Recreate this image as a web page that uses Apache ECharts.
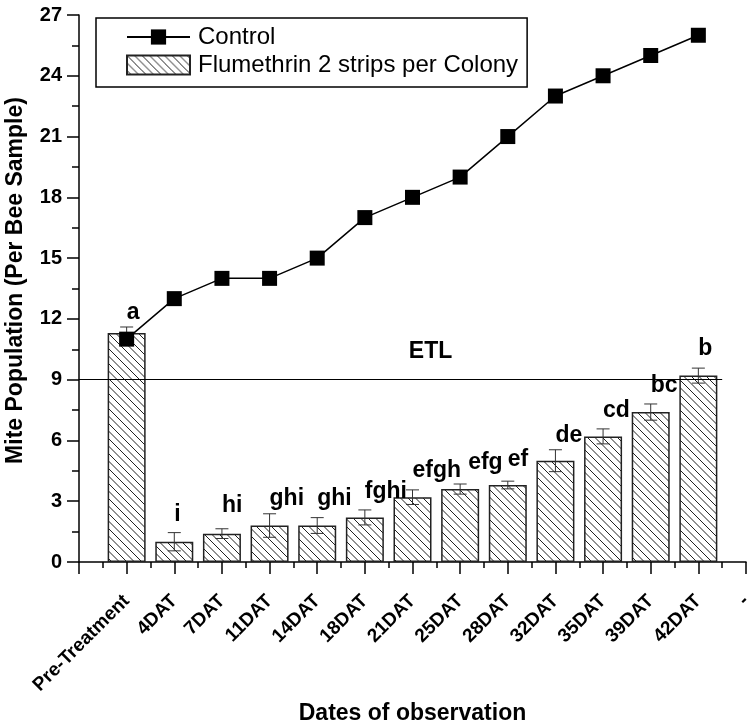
<!DOCTYPE html>
<html><head><meta charset="utf-8">
<script src="https://cdn.jsdelivr.net/npm/echarts@6/dist/echarts.min.js"></script>
<style>html,body{margin:0;padding:0;background:#fff}#c{width:752px;height:725px}</style>
</head><body><div id="c"></div>
<script>
// ---- data ----
const categories = ['', 'Pre-Treatment', '4DAT', '7DAT', '11DAT', '14DAT', '18DAT', '21DAT', '25DAT', '28DAT', '32DAT', '35DAT', '39DAT', '42DAT', '-'];
const controlValues = [11, 13, 14, 14, 15, 17, 18, 19, 21, 23, 24, 25, 26];
const flumethrinValues = [11.3, 1.0, 1.4, 1.8, 1.8, 2.2, 3.2, 3.6, 3.8, 5.0, 6.2, 7.4, 9.2];
const flumethrinErrors = [0.3, 0.45, 0.24, 0.58, 0.39, 0.37, 0.36, 0.25, 0.19, 0.54, 0.37, 0.4, 0.37];
const letters = ['a', 'i', 'hi', 'ghi', 'ghi', 'fghi', 'efgh', 'efg', 'ef', 'de', 'cd', 'bc', 'b'];
const etlValue = 9;
const etlLabel = 'ETL';
const seriesNames = ['Control', 'Flumethrin 2 strips per Colony'];
const yMin = 0, yMax = 27, yInterval = 3;

// ---- styles (label nudges in px) ----
const letterNudgeX = [0, 0, 0, 0, 0, 0, 0, 8, 0, 0, 0, 0, 0];
const letterNudgeY = [-14, -18, -23, -15, -19, -18, -19, -21, -22, -14, -18, -18, -19];

const FONT = '"Liberation Sans", Arial, Helvetica, sans-serif';

// hatch pattern
const tile = document.createElement('canvas');
tile.width = 15; tile.height = 15;
const tctx = tile.getContext('2d');
tctx.fillStyle = '#fff'; tctx.fillRect(0, 0, 15, 15);
tctx.strokeStyle = '#222'; tctx.lineWidth = 1;
tctx.beginPath();
for (let o = -15; o <= 15; o += 7.5) { tctx.moveTo(o, 0); tctx.lineTo(o + 15, 15); }
tctx.stroke();
const hatch = { image: tile, repeat: 'repeat' };

const xOf = i => i + 1;
const barData = flumethrinValues.map((v, i) => [xOf(i), v]);
const lineData = controlValues.map((v, i) => [xOf(i), v]);
const errData = flumethrinValues.map((v, i) => [xOf(i), v - flumethrinErrors[i], v + flumethrinErrors[i]]);
const letterData = flumethrinValues.map((v, i) => [xOf(i), v + flumethrinErrors[i], i]);

const chart = echarts.init(document.getElementById('c'), null, { renderer: 'canvas' });
chart.setOption({
  backgroundColor: '#fff',
  animation: false,
  grid: { left: 79, right: 6, top: 15, bottom: 163, containLabel: false, outerBoundsMode: 'none' },
  legend: {
    orient: 'vertical', left: 96, top: 18,
    padding: [7, 9, 10, 30],
    borderColor: '#000', borderWidth: 1.5,
    itemWidth: 63, itemHeight: 19, itemGap: 4,
    textStyle: { fontSize: 24, color: '#000', fontFamily: FONT, padding: [0, 0, 0, 3] },
    data: [{ name: seriesNames[0] }, { name: seriesNames[1], icon: 'rect' }]
  },
  xAxis: {
    type: 'value', min: 0, max: categories.length - 1, interval: 1,
    axisLine: { show: true, onZero: false, lineStyle: { color: '#000', width: 1.5 } },
    axisTick: { show: true, length: 12, lineStyle: { color: '#000', width: 1.5 } },
    minorTick: { show: true, splitNumber: 2, length: 6, lineStyle: { color: '#000', width: 1.5 } },
    splitLine: { show: false },
    axisLabel: {
      rotate: 45, margin: 36, showMinLabel: true, showMaxLabel: true,
      formatter: v => categories[Math.round(v)] || '',
      fontWeight: 'bold', fontSize: 19, color: '#000', fontFamily: FONT
    },
    name: 'Dates of observation', nameLocation: 'middle', nameGap: 139,
    nameTextStyle: { fontWeight: 'bold', fontSize: 23, color: '#000', fontFamily: FONT }
  },
  yAxis: {
    type: 'value', min: yMin, max: yMax, interval: yInterval,
    axisLine: { show: true, lineStyle: { color: '#000', width: 1.5 } },
    axisTick: { show: true, length: 12, lineStyle: { color: '#000', width: 1.5 } },
    minorTick: { show: true, splitNumber: 2, length: 7, lineStyle: { color: '#000', width: 1.5 } },
    splitLine: { show: false },
    axisLabel: { margin: 17, fontWeight: 'bold', fontSize: 20, color: '#000', fontFamily: FONT },
    name: 'Mite Population (Per Bee Sample)', nameLocation: 'middle', nameGap: 52,
    nameTextStyle: { fontWeight: 'bold', fontSize: 23, color: '#000', fontFamily: FONT, padding: [0, 0, 0, 16] }
  },
  series: [
    {
      name: seriesNames[1], type: 'bar', data: barData, barWidth: 38, z: 2,
      itemStyle: { color: hatch, borderColor: '#222', borderWidth: 1.5 },
      markLine: {
        silent: true, symbol: ['none', 'none'],
        lineStyle: { color: '#000', width: 1.2, type: 'solid' },
        label: {
          show: true, position: 'middle', formatter: etlLabel, distance: 17, offset: [30, 0],
          fontWeight: 'bold', fontSize: 23, color: '#000', fontFamily: FONT
        },
        data: [[{ coord: [0, etlValue] }, { coord: [13.5, etlValue] }]]
      }
    },
    {
      name: 'err', type: 'custom', z: 4, data: errData,
      encode: { x: 0, y: [1, 2] },
      renderItem: (params, api) => {
        const x = api.value(0);
        const lo = api.coord([x, api.value(1)]);
        const hi = api.coord([x, api.value(2)]);
        const hw = 6.5;
        const st = { stroke: '#333', lineWidth: 1 };
        return {
          type: 'group', children: [
            { type: 'line', shape: { x1: lo[0], y1: lo[1], x2: hi[0], y2: hi[1] }, style: st },
            { type: 'line', shape: { x1: hi[0] - hw, y1: hi[1], x2: hi[0] + hw, y2: hi[1] }, style: st },
            { type: 'line', shape: { x1: lo[0] - hw, y1: lo[1], x2: lo[0] + hw, y2: lo[1] }, style: st }
          ]
        };
      }
    },
    {
      name: seriesNames[0], type: 'line', data: lineData, z: 5,
      symbol: 'rect', symbolSize: 15,
      lineStyle: { color: '#000', width: 1.5 },
      itemStyle: { color: '#000' }
    },
    {
      name: 'letters', type: 'custom', z: 6, data: letterData,
      encode: { x: 0, y: 1 },
      renderItem: (params, api) => {
        const i = api.value(2);
        const p = api.coord([api.value(0), api.value(1)]);
        return {
          type: 'text',
          x: p[0] + letterNudgeX[i], y: p[1] + letterNudgeY[i],
          style: {
            text: letters[i], fill: '#000', align: 'left', verticalAlign: 'middle',
            font: 'bold 23px ' + FONT
          }
        };
      }
    }
  ]
});
</script>
</body></html>
